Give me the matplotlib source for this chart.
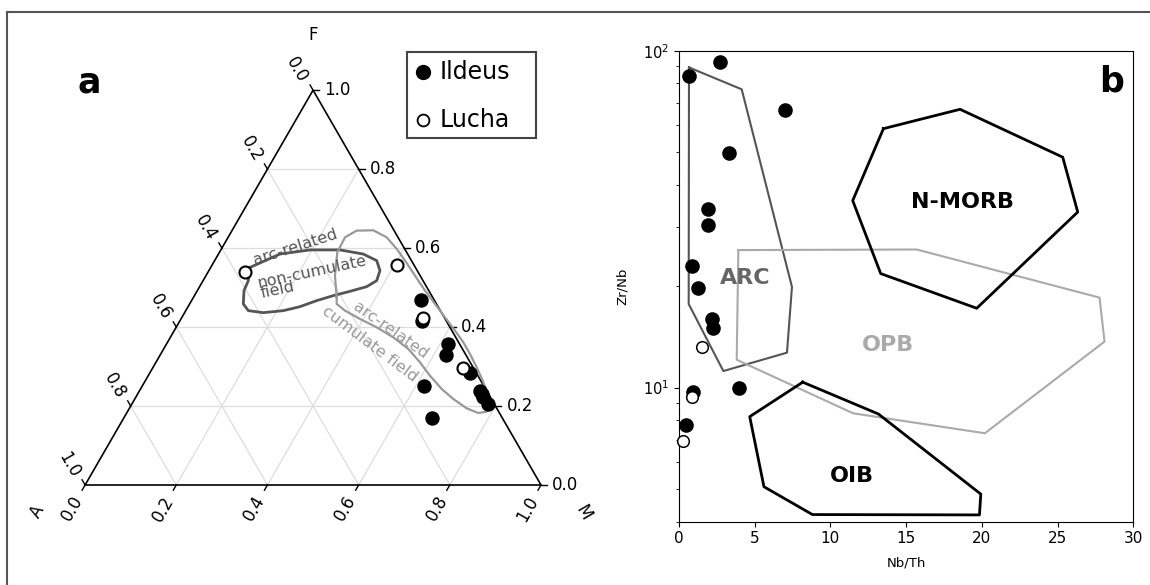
import numpy as np
import matplotlib.pyplot as plt
from matplotlib.lines import Line2D
from matplotlib.patches import Rectangle

W, H = 1150, 585
H3 = np.sqrt(3) / 2

# --- panel a: AFM ternary (fractions of F and M; A = 1 - F - M) ---
ildeus_F = [0.469, 0.4145, 0.357, 0.330, 0.283, 0.237, 0.230, 0.222, 0.205, 0.2516, 0.170]
ildeus_M = [0.502, 0.531, 0.618, 0.626, 0.703, 0.748, 0.755, 0.7625, 0.782, 0.6176, 0.677]
lucha_F = [0.540, 0.557, 0.422, 0.2954]
lucha_M = [0.081, 0.405, 0.531, 0.681]

noncum_F = [0.551, 0.585, 0.5954, 0.5954, 0.585, 0.5683, 0.543, 0.5176, 0.5024, 0.4905,
            0.4796, 0.467, 0.4517, 0.4416, 0.4365, 0.4416, 0.4586, 0.4923, 0.5176]
noncum_M = [0.086, 0.135, 0.1956, 0.2614, 0.3176, 0.3555, 0.3753, 0.3808, 0.3665, 0.3357,
            0.3046, 0.2745, 0.2455, 0.214, 0.1726, 0.1372, 0.1177, 0.1024, 0.0992]

cum_F = [0.4753, 0.5303, 0.5893, 0.6273, 0.6443, 0.6451, 0.6273, 0.598, 0.5683, 0.5303,
         0.4923, 0.4586, 0.4246, 0.3909, 0.3613, 0.3319, 0.298, 0.2643, 0.2306, 0.2009,
         0.1857, 0.1824, 0.1941, 0.2179, 0.2432, 0.2769, 0.3106, 0.3446, 0.374, 0.3993,
         0.4206, 0.4416, 0.4586]
cum_M = [0.3142, 0.2829, 0.2585, 0.2564, 0.2735, 0.3097, 0.3478, 0.3845, 0.4176, 0.4584,
         0.4995, 0.5382, 0.5771, 0.6159, 0.649, 0.6783, 0.71, 0.74, 0.7669, 0.7893,
         0.788, 0.7713, 0.74, 0.6986, 0.6606, 0.618, 0.5793, 0.5366, 0.489, 0.44,
         0.3927, 0.3493, 0.3226]

tern_ticks = [0.0, 0.2, 0.4, 0.6, 0.8, 1.0]

# --- panel b: Zr/Nb vs Nb/Th ---
ildeus_nbth = [2.71, 0.68, 6.98, 3.30, 1.89, 1.89, 0.84, 1.25, 2.20, 2.22, 3.99, 0.95, 0.44]
ildeus_zrnb = [92.4, 84.1, 66.6, 49.7, 33.8, 30.4, 22.9, 19.7, 15.96, 15.07, 9.96, 9.71, 7.75]
lucha_nbth = [1.54, 0.86, 0.24]
lucha_zrnb = [13.2, 9.37, 6.95]

arc_x = [0.66, 4.14, 7.46, 7.13, 2.93, 0.64]
arc_y = [89.2, 76.8, 19.9, 12.7, 11.2, 17.7]
opb_x = [3.92, 15.7, 27.77, 28.1, 20.2, 11.5, 3.81]
opb_y = [25.6, 25.7, 18.5, 13.7, 7.32, 8.39, 12.1]
morb_x = [13.5, 18.56, 25.34, 26.33, 19.66, 13.32, 11.47]
morb_y = [58.7, 67.0, 48.3, 33.2, 17.2, 21.8, 35.9]
oib_x = [8.17, 13.17, 19.93, 19.84, 8.81, 5.61, 4.67]
oib_y = [10.38, 8.35, 4.83, 4.19, 4.20, 5.08, 8.20]


def tern(F, M):
    F, M = np.asarray(F, float), np.asarray(M, float)
    return M + F / 2, F * H3


def closed(x, y):
    return np.r_[x, x[:1]], np.r_[y, y[:1]]


fig = plt.figure(figsize=(W / 100, H / 100), dpi=100)

# outer frame
fig.add_artist(Line2D([7 / W, 1], [1 - 12 / H, 1 - 12 / H], transform=fig.transFigure,
                      color='#555555', lw=1.5))
fig.add_artist(Line2D([7 / W, 7 / W], [0, 1 - 12 / H], transform=fig.transFigure,
                      color='#555555', lw=1.5))

# ---------------- panel a ----------------
scale = 455.9  # pixels per unit side
ax = fig.add_axes([0, 0, 600 / W, 1])
ax.set_xlim(-85.1 / scale, (600 - 85.1) / scale)
ax.set_ylim(-100 / scale, 485 / scale)
ax.axis('off')

for v in [0.2, 0.4, 0.6, 0.8]:
    kw = dict(color='#dddddd', lw=0.9, zorder=1)
    ax.plot([v / 2, 1 - v / 2], [v * H3, v * H3], **kw)
    ax.plot([v, v + (1 - v) / 2], [0, (1 - v) * H3], **kw)
    ax.plot([1 - v, (1 - v) / 2], [0, (1 - v) * H3], **kw)

ax.plot([0, 1, 0.5, 0], [0, 0, H3, 0], color='black', lw=1.2, zorder=2)

tl = 6 / scale
for t in tern_ticks:
    # bottom axis (M)
    ax.plot([t, t - tl / 2], [0, -tl * H3], color='black', lw=1, zorder=2)
    ax.annotate(f'{t:.1f}', (t, 0), xytext=(-9.5, -17), textcoords='offset points',
                rotation=60, ha='center', va='center', fontsize=12)
    # right axis (F)
    rx, ry = 1 - t / 2, t * H3
    ax.plot([rx, rx + tl], [ry, ry], color='black', lw=1, zorder=2)
    ax.annotate(f'{t:.1f}', (rx, ry), xytext=(8, 0), textcoords='offset points',
                ha='left', va='center', fontsize=12)
    # left axis (A)
    lx, ly = (1 - t) / 2, (1 - t) * H3
    ax.plot([lx, lx - tl / 2], [ly, ly + tl * H3], color='black', lw=1, zorder=2)
    ax.annotate(f'{t:.1f}', (lx, ly), xytext=(-11.5, 14.4), textcoords='offset points',
                rotation=-60, ha='center', va='center', fontsize=12)

ax.annotate('F', (0.5, H3), xytext=(0, 39.6), textcoords='offset points',
            ha='center', va='center', fontsize=12)
ax.annotate('A', (0, 0), xytext=(-34.6, -19.4), textcoords='offset points',
            rotation=60, ha='center', va='center', fontsize=12)
ax.annotate('M', (1, 0), xytext=(30.2, -20.2), textcoords='offset points',
            rotation=-60, ha='center', va='center', fontsize=12)

x, y = closed(*tern(noncum_F, noncum_M))
ax.plot(x, y, color='#555555', lw=2, zorder=3)
x, y = closed(*tern(cum_F, cum_M))
ax.plot(x, y, color='#999999', lw=1.6, zorder=3)

for txt, f, m, rot, col in [('arc-related', 0.603, 0.160, 18, '#555555'),
                            ('non-cumulate', 0.5403, 0.2283, 12, '#555555'),
                            ('field', 0.4939, 0.1746, 12, '#555555'),
                            ('arc-related', 0.3926, 0.474, -35, '#999999'),
                            ('cumulate field', 0.3571, 0.4463, -37, '#999999')]:
    tx, ty = tern(f, m)
    ax.text(tx, ty, txt, rotation=rot, color=col, fontsize=11.5, ha='center', va='center',
            rotation_mode='anchor', zorder=3)

x, y = tern(ildeus_F, ildeus_M)
ax.scatter(x, y, s=88, c='black', zorder=4)
x, y = tern(lucha_F, lucha_M)
ax.scatter(x, y, s=75, facecolors='white', edgecolors='black', linewidths=1.5, zorder=5)

# legend box
fig.add_artist(Rectangle((407.3 / W, 1 - 138.3 / H), 128.7 / W, 86 / H, transform=fig.transFigure,
                         facecolor='white', edgecolor='#444444', lw=1.5))
fig.add_artist(Line2D([422.7 / W], [1 - 71.7 / H], transform=fig.transFigure, marker='o',
                      markersize=10, color='black', ls='none'))
fig.add_artist(Line2D([422.7 / W], [1 - 120 / H], transform=fig.transFigure, marker='o',
                      markersize=8.5, markerfacecolor='white', markeredgecolor='black',
                      markeredgewidth=1.3, ls='none'))
fig.text(440 / W, 1 - 71.7 / H, 'Ildeus', fontsize=17, va='center')
fig.text(440 / W, 1 - 120 / H, 'Lucha', fontsize=17, va='center')

fig.text(89 / W, 1 - 83 / H, 'a', fontsize=25, weight='bold', ha='center', va='center')

# ---------------- panel b ----------------
bx = fig.add_axes([679 / W, 1 - 521.7 / H, 454.3 / W, 471 / H])
bx.set_yscale('log')
bx.set_xlim(0, 30)
bx.set_ylim(4, 100)
bx.set_xticks([0, 5, 10, 15, 20, 25, 30])
bx.tick_params(axis='x', labelsize=11)
bx.tick_params(axis='y', labelsize=10.5)
bx.set_xlabel('Nb/Th', fontsize=9.5, labelpad=7)
bx.set_ylabel('Zr/Nb', fontsize=9.5, labelpad=10)

for px, py, col, lw in [(arc_x, arc_y, '#555555', 1.5), (opb_x, opb_y, '#aaaaaa', 1.5),
                        (morb_x, morb_y, 'black', 2), (oib_x, oib_y, 'black', 2)]:
    bx.plot(*closed(px, py), color=col, lw=lw, zorder=2)

bx.text(18.7, 35.6, 'N-MORB', fontsize=16, weight='bold', ha='center', va='center')
bx.text(4.4, 21.1, 'ARC', fontsize=16, weight='bold', color='#666666', ha='center', va='center')
bx.text(13.8, 13.4, 'OPB', fontsize=16, weight='bold', color='#aaaaaa', ha='center', va='center')
bx.text(11.4, 5.47, 'OIB', fontsize=16, weight='bold', ha='center', va='center')

bx.scatter(ildeus_nbth, ildeus_zrnb, s=90, c='black', zorder=4, clip_on=False)
bx.scatter(lucha_nbth, lucha_zrnb, s=70, facecolors='white', edgecolors='black',
           linewidths=1.1, zorder=5, clip_on=False)

fig.text(1112 / W, 1 - 81 / H, 'b', fontsize=25, weight='bold', ha='center', va='center')

fig.savefig('out.png', dpi=100)
